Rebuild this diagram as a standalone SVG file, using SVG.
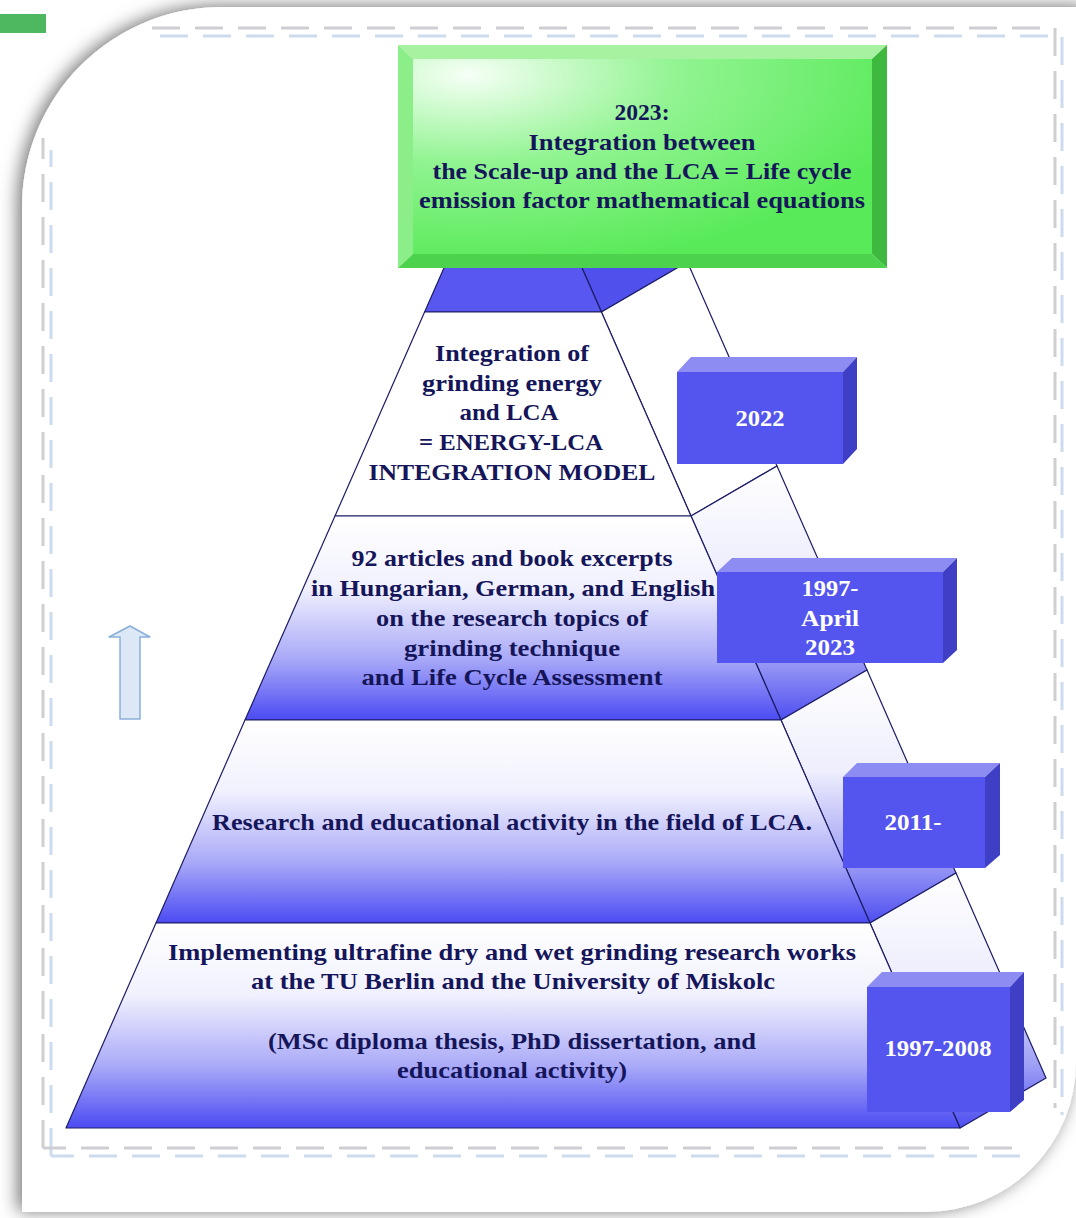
<svg xmlns="http://www.w3.org/2000/svg" width="1076" height="1218" viewBox="0 0 1076 1218">
<style>
.t{font-family:"Liberation Serif","Times New Roman",serif;font-weight:bold;font-size:24px;fill:#15155a;text-anchor:middle}
.y{font-family:"Liberation Serif","Times New Roman",serif;font-weight:bold;font-size:24px;fill:#ffffff;text-anchor:middle}
.edge{stroke:#1c1c66;stroke-width:1.2;stroke-linejoin:round}
.bf{fill:#5454ee}.bt{fill:#8c8cf3}.br{fill:#3f3fc6}
.dg{fill:none;stroke:#cfcfd3;stroke-width:3;stroke-dasharray:28 15}
.db{fill:none;stroke:#cddbee;stroke-width:3;stroke-dasharray:28 15}
</style>
<defs>
<linearGradient id="fg" x1="0" y1="0" x2="0" y2="1">
<stop offset="0" stop-color="#ffffff"/><stop offset="0.35" stop-color="#f1f1fe"/><stop offset="0.7" stop-color="#a9a9f8"/><stop offset="1" stop-color="#4b4bf3"/>
</linearGradient>
<linearGradient id="sg" x1="0" y1="0" x2="0" y2="1">
<stop offset="0" stop-color="#ffffff"/><stop offset="0.4" stop-color="#eeeefd"/><stop offset="0.75" stop-color="#a0a0f6"/><stop offset="1" stop-color="#4e4ef0"/>
</linearGradient>
<radialGradient id="gg" cx="0.12" cy="0.08" r="1">
<stop offset="0" stop-color="#f6fff6"/><stop offset="0.45" stop-color="#92f492"/><stop offset="1" stop-color="#58ea58"/>
</radialGradient>
<filter id="sh" x="-10%" y="-10%" width="120%" height="120%">
<feDropShadow dx="-4" dy="-1" stdDeviation="9" flood-color="#000000" flood-opacity="0.55"/>
</filter>
</defs>
<rect width="1076" height="1218" fill="#ffffff"/>
<g id="card">
<path d="M22,207 A200,200 0 0 1 222,7 L1090,7 L1090,1062 L1076,1062 A150,150 0 0 1 926,1212 L22,1212 Z" fill="#ffffff" filter="url(#sh)"/>
</g>
<rect id="greenbar" x="0" y="14" width="46" height="19" fill="#4db85f"/>
<g id="frame">
<path class="db" d="M51,1156 L51,150 M160,36 L1062,36 L1062,1115 M1020,1156 L51,1156"/>
<path class="dg" d="M43,1148 L43,138 M152,28 L1055,28 L1055,1108 M1012,1148 L43,1148"/>
</g>
<g id="arrow">
<path d="M120,719 L120,637 L109,637 L130,626 L150,637 L140,637 L140,719 Z" fill="#dce8f6" stroke="#8ab0da" stroke-width="1.5" stroke-linejoin="round"/>
</g>
<g id="connectors">
</g>
<g id="tier1">
<polygon class="edge" points="513,111 599,61 687.4,262 601.4,312" fill="#5050ec"/>
<polygon class="edge" points="513,111 601.4,312 424.6,312" fill="#5858f1"/>
</g>
<g id="tier2">
<polygon class="edge" points="601.4,312 687.4,262 777,466 691,516" fill="#ffffff"/>
<polygon class="edge" points="424.6,312 601.4,312 691,516 335,516" fill="#ffffff"/>
<text class="t" x="512" y="361" textLength="154" lengthAdjust="spacingAndGlyphs">Integration of</text>
<text class="t" x="512" y="391" textLength="180" lengthAdjust="spacingAndGlyphs">grinding energy</text>
<text class="t" x="509" y="420" textLength="99" lengthAdjust="spacingAndGlyphs">and LCA</text>
<text class="t" x="511" y="450" textLength="184" lengthAdjust="spacingAndGlyphs">= ENERGY-LCA</text>
<text class="t" x="512" y="480" textLength="287" lengthAdjust="spacingAndGlyphs">INTEGRATION MODEL</text>
</g>
<g id="tier3">
<polygon class="edge" points="691,516 777,466 867,670 781,720" fill="url(#sg)"/>
<polygon class="edge" points="335,516 691,516 781,720 245,720" fill="url(#fg)"/>
<text class="t" x="512" y="566" textLength="321" lengthAdjust="spacingAndGlyphs">92 articles and book excerpts</text>
<text class="t" x="513" y="596" textLength="404" lengthAdjust="spacingAndGlyphs">in Hungarian, German, and English</text>
<text class="t" x="512" y="626" textLength="272" lengthAdjust="spacingAndGlyphs">on the research topics of</text>
<text class="t" x="512" y="656" textLength="216" lengthAdjust="spacingAndGlyphs">grinding technique</text>
<text class="t" x="512" y="685" textLength="301" lengthAdjust="spacingAndGlyphs">and Life Cycle Assessment</text>
</g>
<g id="tier4">
<polygon class="edge" points="781,720 867,670 956,873 870,923" fill="url(#sg)"/>
<polygon class="edge" points="245,720 781,720 870,923 156,923" fill="url(#fg)"/>
<text class="t" x="512" y="830" textLength="600" lengthAdjust="spacingAndGlyphs">Research and educational activity in the field of LCA.</text>
</g>
<g id="tier5">
<polygon class="edge" points="870,923 956,873 1046,1078 960,1128" fill="url(#sg)"/>
<polygon class="edge" points="156,923 870,923 960,1128 66,1128" fill="url(#fg)"/>
<text class="t" x="512" y="960" textLength="688" lengthAdjust="spacingAndGlyphs">Implementing ultrafine dry and wet grinding research works</text>
<text class="t" x="513" y="989" textLength="524" lengthAdjust="spacingAndGlyphs">at the TU Berlin and the University of Miskolc</text>
<text class="t" x="512" y="1049" textLength="488" lengthAdjust="spacingAndGlyphs">(MSc diploma thesis, PhD dissertation, and</text>
<text class="t" x="512" y="1078" textLength="230" lengthAdjust="spacingAndGlyphs">educational activity)</text>
</g>
<g id="box2023">
<polygon points="398,45 887,45 872,59 413,59" fill="#a6f2a0"/>
<polygon points="398,45 413,59 413,254 398,268" fill="#8cee88"/>
<polygon points="887,45 887,268 872,254 872,59" fill="#3fb83f"/>
<polygon points="398,268 413,254 872,254 887,268" fill="#4cd24c"/>
<rect x="413" y="59" width="459" height="195" fill="url(#gg)"/>
<text class="t" x="642" y="120" textLength="55" lengthAdjust="spacingAndGlyphs">2023:</text>
<text class="t" x="642" y="150" textLength="227" lengthAdjust="spacingAndGlyphs">Integration between</text>
<text class="t" x="642" y="179" textLength="419" lengthAdjust="spacingAndGlyphs">the Scale-up and the LCA = Life cycle</text>
<text class="t" x="642" y="208" textLength="446" lengthAdjust="spacingAndGlyphs">emission factor mathematical equations</text>
</g>
<g id="year2022">
<polygon class="bt" points="677,372 691,357 857,357 843,372"/>
<polygon class="br" points="843,372 857,357 857,449 843,464"/>
<rect class="bf" x="677" y="372" width="166" height="92"/>
<text class="y" x="760" y="426" textLength="49" lengthAdjust="spacingAndGlyphs">2022</text>
</g>
<g id="year1997april">
<polygon class="bt" points="717,572 732,558 957,558 943,572"/>
<polygon class="br" points="943,572 957,558 957,650 943,663"/>
<rect class="bf" x="717" y="572" width="226" height="91"/>
<text class="y" x="830" y="596" textLength="57" lengthAdjust="spacingAndGlyphs">1997-</text>
<text class="y" x="830" y="626" textLength="58" lengthAdjust="spacingAndGlyphs">April</text>
<text class="y" x="830" y="655" textLength="50" lengthAdjust="spacingAndGlyphs">2023</text>
</g>
<g id="year2011">
<polygon class="bt" points="843,777 857,763 1000,763 985,777"/>
<polygon class="br" points="985,777 1000,763 1000,855 985,868"/>
<rect class="bf" x="843" y="777" width="142" height="91"/>
<text class="y" x="913" y="830" textLength="57" lengthAdjust="spacingAndGlyphs">2011-</text>
</g>
<g id="year19972008">
<polygon class="bt" points="867,987 882,972 1024,972 1010,987"/>
<polygon class="br" points="1010,987 1024,972 1024,1100 1010,1112"/>
<rect class="bf" x="867" y="987" width="143" height="125"/>
<text class="y" x="938" y="1056" textLength="107" lengthAdjust="spacingAndGlyphs">1997-2008</text>
</g>
</svg>
